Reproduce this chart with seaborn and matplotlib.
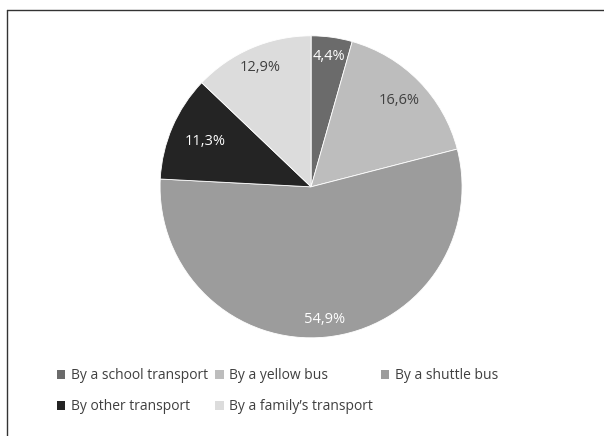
import numpy as np
import matplotlib
matplotlib.use("Agg")
import matplotlib.pyplot as plt
from matplotlib.lines import Line2D
from matplotlib.patches import Patch
import seaborn as sns

sns.set_theme(style="white")
plt.rcParams["font.family"] = ["Open Sans", "DejaVu Sans"]

categories = ["By a school transport", "By a yellow bus", "By a shuttle bus",
              "By other transport", "By a family\u2019s transport"]
shares = [4.4, 16.6, 54.9, 11.3, 12.9]
colors = ["#6b6b6b", "#bdbdbd", "#9c9c9c", "#242424", "#dcdcdc"]
label_colors = ["white", "#404040", "white", "white", "#404040"]
label_dist = [0.87, 0.82, 0.88, 0.76, 0.86]

fig = plt.figure(figsize=(6.04, 4.36), dpi=100, facecolor="white")
ax = fig.add_axes([0.265, 0.225, 0.5, 0.693])

wedges, _ = ax.pie(shares, colors=colors, startangle=90, counterclock=False,
                   wedgeprops=dict(edgecolor="white", linewidth=0.6))
ax.set_xlim(-1.0, 1.0)
ax.set_ylim(-1.0, 1.0)
ax.set_aspect("equal")
ax.axis("off")

# percentage labels with decimal comma
for w, v, c, d in zip(wedges, shares, label_colors, label_dist):
    mid = np.deg2rad((w.theta1 + w.theta2) / 2)
    ax.text(d * np.cos(mid), d * np.sin(mid), f"{v:.1f}%".replace(".", ","),
            ha="center", va="center", color=c, fontsize=10.5)

# legend, row-major order over 3 columns
order = [0, 3, 1, 4, 2]
handles = [Patch(facecolor=colors[i], edgecolor="none") for i in order]
labels = [categories[i] for i in order]
fig.legend(handles, labels, ncol=3, loc="upper left", bbox_to_anchor=(0.094, 0.155),
           frameon=False, fontsize=10, labelcolor="#404040", handlelength=0.6,
           handleheight=0.6, handletextpad=0.4, columnspacing=0.55, labelspacing=1.15,
           borderaxespad=0, borderpad=0)

# partial frame (top and left)
fig.add_artist(Line2D([0.0116, 1.0], [0.977, 0.977], color="#333333", lw=1.0))
fig.add_artist(Line2D([0.0116, 0.0116], [0.0, 0.977], color="#333333", lw=1.0))

fig.savefig("out.png", dpi=100, facecolor="white")
